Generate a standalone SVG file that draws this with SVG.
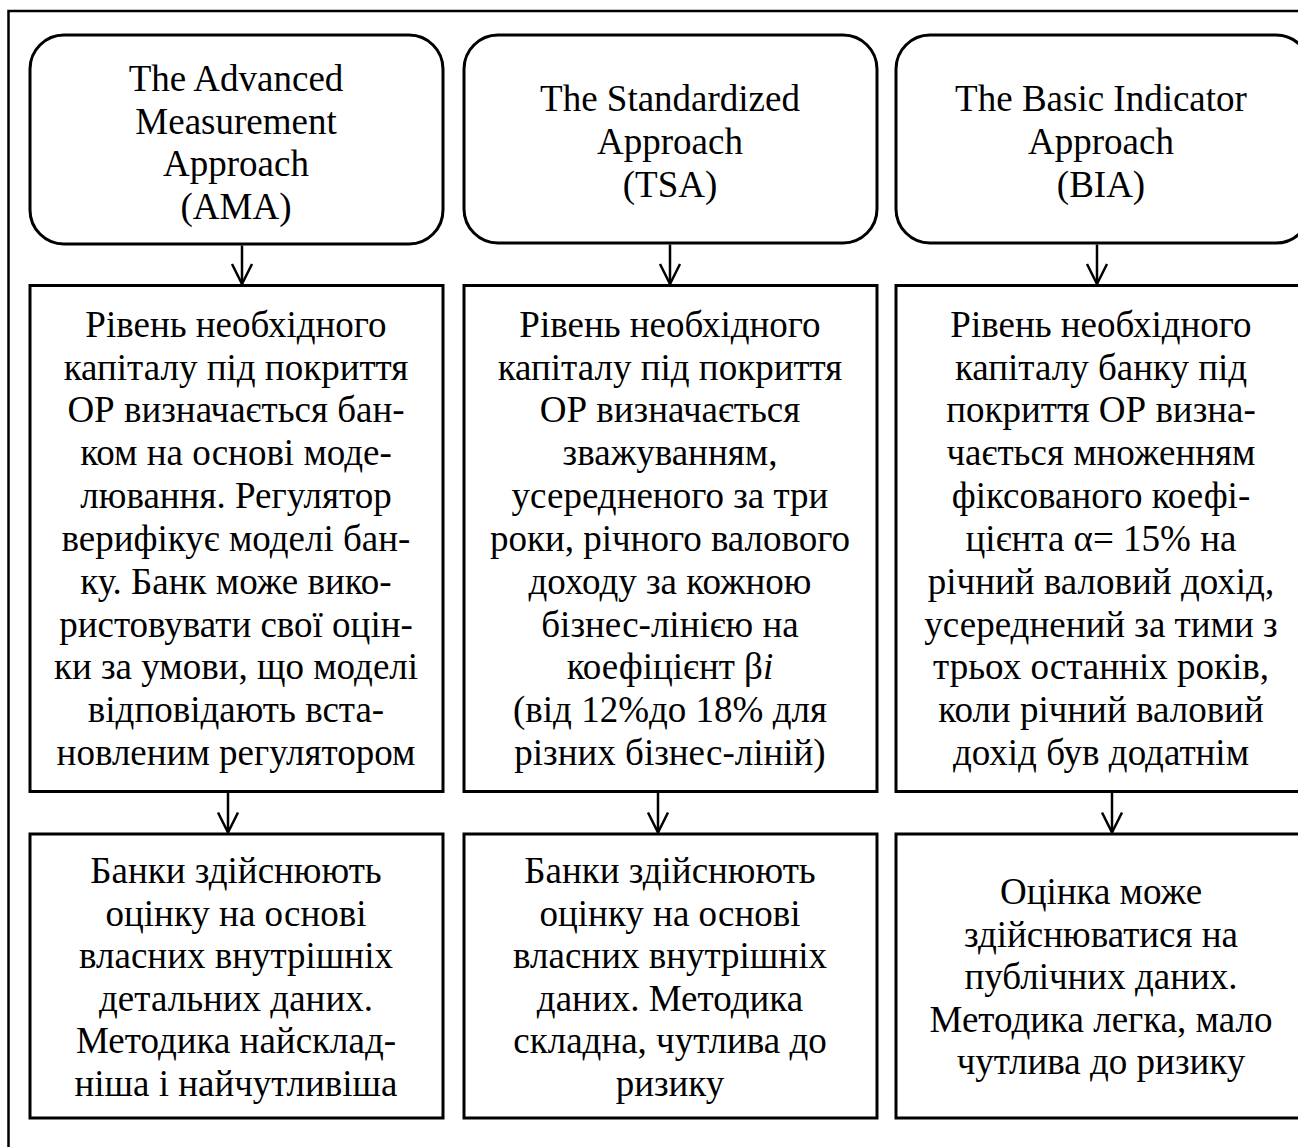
<svg xmlns="http://www.w3.org/2000/svg" width="1298" height="1147" viewBox="0 0 1298 1147">
<style>
.box{fill:#fff;stroke:#000;stroke-width:3}
.frame{fill:none;stroke:#000;stroke-width:2.5}
.t{font-family:"Liberation Serif","Times New Roman",serif;font-size:37px;fill:#000;text-anchor:middle}
.c{fill:none;stroke:#000;stroke-width:2.5}
</style>
<defs>
<marker id="arr" markerUnits="userSpaceOnUse" markerWidth="26" markerHeight="26" viewBox="0 0 26 26" refX="22" refY="13" orient="auto">
<path d="M2,3 L22,13 L2,23" fill="none" stroke="#000" stroke-width="2.5"/>
</marker>
</defs>
<rect width="1298" height="1147" fill="#fff"/>
<path class="frame" d="M1298,11 H8.5 V1147"/>

<g id="ama-head">
<rect class="box" x="30" y="35" width="413" height="209" rx="34" ry="34"/>
<text class="t"><tspan x="236" y="91">The Advanced</tspan><tspan x="236" y="133.6">Measurement</tspan><tspan x="236" y="176.2">Approach</tspan><tspan x="236" y="218.8">(AMA)</tspan></text>
</g>
<g id="tsa-head">
<rect class="box" x="464" y="35" width="413" height="208" rx="34" ry="34"/>
<text class="t"><tspan x="670" y="111">The Standardized</tspan><tspan x="670" y="154">Approach</tspan><tspan x="670" y="197">(TSA)</tspan></text>
</g>
<g id="bia-head">
<rect class="box" x="896" y="35" width="414" height="208" rx="34" ry="34"/>
<text class="t"><tspan x="1101" y="111">The Basic Indicator</tspan><tspan x="1101" y="154">Approach</tspan><tspan x="1101" y="197">(BIA)</tspan></text>
</g>

<g id="ama-capital">
<rect class="box" x="30" y="285.5" width="413" height="506"/>
<text class="t"><tspan x="236" y="337">Рівень необхідного</tspan><tspan x="236" y="380">капіталу під покриття</tspan><tspan x="236" y="422">ОР визначається бан-</tspan><tspan x="236" y="465">ком на основі моде-</tspan><tspan x="236" y="508">лювання. Регулятор</tspan><tspan x="236" y="551">верифікує моделі бан-</tspan><tspan x="236" y="594">ку. Банк може вико-</tspan><tspan x="236" y="637">ристовувати свої оцін-</tspan><tspan x="236" y="679">ки за умови, що моделі</tspan><tspan x="236" y="722">відповідають вста-</tspan><tspan x="236" y="765">новленим регулятором</tspan></text>
</g>
<g id="tsa-capital">
<rect class="box" x="464" y="285.5" width="413" height="506"/>
<text class="t"><tspan x="670" y="337">Рівень необхідного</tspan><tspan x="670" y="380">капіталу під покриття</tspan><tspan x="670" y="422">ОР визначається</tspan><tspan x="670" y="465">зважуванням,</tspan><tspan x="670" y="508">усередненого за три</tspan><tspan x="670" y="551">роки, річного валового</tspan><tspan x="670" y="594">доходу за кожною</tspan><tspan x="670" y="637">бізнес-лінією на</tspan><tspan x="670" y="679">коефіцієнт β<tspan font-style="italic">i</tspan></tspan><tspan x="670" y="722">(від 12%до 18% для</tspan><tspan x="670" y="765">різних бізнес-ліній)</tspan></text>
</g>
<g id="bia-capital">
<rect class="box" x="896" y="285.5" width="414" height="506"/>
<text class="t"><tspan x="1101" y="337">Рівень необхідного</tspan><tspan x="1101" y="380">капіталу банку під</tspan><tspan x="1101" y="422">покриття ОР визна-</tspan><tspan x="1101" y="465">чається множенням</tspan><tspan x="1101" y="508">фіксованого коефі-</tspan><tspan x="1101" y="551">цієнта α= 15% на</tspan><tspan x="1101" y="594">річний валовий дохід,</tspan><tspan x="1101" y="637">усереднений за тими з</tspan><tspan x="1101" y="679">трьох останніх років,</tspan><tspan x="1101" y="722">коли річний валовий</tspan><tspan x="1101" y="765">дохід був додатнім</tspan></text>
</g>

<g id="ama-assess">
<rect class="box" x="30" y="834" width="413" height="284"/>
<text class="t"><tspan x="236" y="883">Банки здійснюють</tspan><tspan x="236" y="926">оцінку на основі</tspan><tspan x="236" y="968">власних внутрішніх</tspan><tspan x="236" y="1011">детальних даних.</tspan><tspan x="236" y="1053">Методика найсклад-</tspan><tspan x="236" y="1096">ніша і найчутливіша</tspan></text>
</g>
<g id="tsa-assess">
<rect class="box" x="464" y="834" width="413" height="284"/>
<text class="t"><tspan x="670" y="883">Банки здійснюють</tspan><tspan x="670" y="926">оцінку на основі</tspan><tspan x="670" y="968">власних внутрішніх</tspan><tspan x="670" y="1011">даних. Методика</tspan><tspan x="670" y="1053">складна, чутлива до</tspan><tspan x="670" y="1096">ризику</tspan></text>
</g>
<g id="bia-assess">
<rect class="box" x="896" y="834" width="414" height="284"/>
<text class="t"><tspan x="1101" y="904">Оцінка може</tspan><tspan x="1101" y="947">здійснюватися на</tspan><tspan x="1101" y="989">публічних даних.</tspan><tspan x="1101" y="1032">Методика легка, мало</tspan><tspan x="1101" y="1074">чутлива до ризику</tspan></text>
</g>

<g id="connectors">
<path class="c" d="M242,245.5 V284" marker-end="url(#arr)"/>
<path class="c" d="M670,244.5 V284" marker-end="url(#arr)"/>
<path class="c" d="M1097,244.5 V284" marker-end="url(#arr)"/>
<path class="c" d="M228,793 V832.5" marker-end="url(#arr)"/>
<path class="c" d="M658,793 V832.5" marker-end="url(#arr)"/>
<path class="c" d="M1112,793 V832.5" marker-end="url(#arr)"/>
</g>
</svg>
